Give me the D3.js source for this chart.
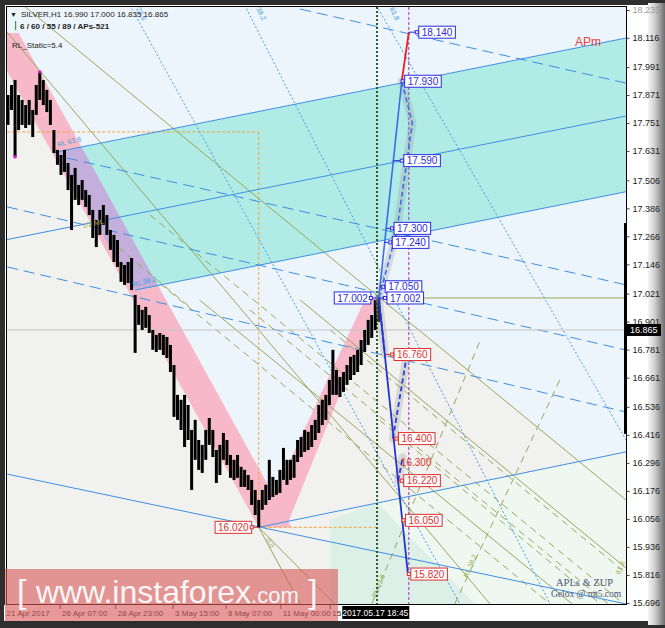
<!DOCTYPE html>
<html>
<head>
<meta charset="utf-8">
<script src="https://cdn.jsdelivr.net/npm/d3@7/dist/d3.min.js"></script>
<style>
  html, body { margin: 0; padding: 0; background: #2e2e2e; }
  svg { display: block; }
  text { font-family: "Liberation Sans", Arial, sans-serif; }
</style>
</head>
<body>
<svg id="chart" width="665" height="628"></svg>
<script>
// ---- data (time in H1 bars from chart start, price in USD) ----
var candleHighs = [17.871,17.914,17.935,17.871,17.850,17.828,17.850,17.807,17.914,17.970,
  17.935,17.893,17.850,17.721,17.636,17.614,17.636,17.580,17.529,17.559,
  17.486,17.507,17.464,17.443,17.379,17.336,17.379,17.400,17.357,17.293,
  17.272,17.250,17.156,17.143,17.156,17.173,17.015,16.972,16.951,16.964,
  16.929,16.865,16.844,16.852,16.844,16.835,16.801,16.715,16.587,16.566,
  16.587,16.544,16.437,16.480,16.394,16.373,16.437,16.488,16.437,16.351,
  16.373,16.424,16.394,16.330,16.309,16.330,16.279,16.266,16.244,16.223,
  16.180,16.137,16.180,16.202,16.309,16.236,16.223,16.266,16.360,16.309,
  16.309,16.330,16.394,16.407,16.437,16.429,16.458,16.480,16.544,16.566,
  16.587,16.651,16.780,16.694,16.664,16.685,16.715,16.750,16.758,16.780,
  16.822,16.865,16.908,16.929,16.994,17.002];
var candleLows = [17.743,17.807,17.606,17.721,17.743,17.730,17.743,17.691,17.786,17.850,
  17.828,17.798,17.743,17.623,17.572,17.529,17.542,17.464,17.293,17.422,
  17.400,17.422,17.392,17.357,17.259,17.220,17.272,17.315,17.272,17.208,
  17.156,17.135,17.071,17.058,17.066,17.036,16.767,16.887,16.865,16.874,
  16.852,16.780,16.771,16.780,16.758,16.745,16.685,16.493,16.480,16.437,
  16.364,16.394,16.180,16.309,16.266,16.253,16.309,16.373,16.321,16.210,
  16.244,16.309,16.287,16.232,16.223,16.232,16.193,16.193,16.180,16.116,
  16.073,16.020,16.095,16.116,16.137,16.150,16.159,16.167,16.223,16.202,
  16.223,16.232,16.300,16.321,16.343,16.351,16.364,16.394,16.424,16.458,
  16.480,16.544,16.587,16.587,16.578,16.600,16.630,16.651,16.672,16.685,
  16.715,16.771,16.801,16.831,16.865,16.899];
var hoursPerCandle = 4;

var priceTicks = [18.235,18.116,17.991,17.871,17.751,17.631,17.506,17.386,17.266,17.146,
  17.021,16.901,16.781,16.661,16.536,16.416,16.296,16.176,16.056,15.936,15.816,15.696];
var timeTickHours = [-4, 59, 122, 187, 247, 309, 365];
var timeTickLabels = ["21 Apr 2017","26 Apr 07:00","28 Apr 23:00","3 May 15:00","8 May 07:00","11 May 00:00","15"];

var lastPrice = 16.865;
var swingHigh = [420, 17.002];
var swingLow = [284, 16.020];

var upTargets = [18.140, 17.930, 17.590, 17.300, 17.240, 17.050, 17.002];
var upLineHours = [454, 446, 436, 428, 426, 421, 421];
var upMarkHours = [463, 447, 446, 435, 433, 425, 427];
var downTargets = [16.760, 16.400, 16.220, 16.050, 15.820];
var downLineHours = [428, 436, 442, 446, 453];
var downMarkHours = [435, 440, 446, 448, 454];

var upSolid = [[420,17.002],[446,17.930]];
var upRed = [[446,17.930],[454,18.140]];
var upDashed = [[420,17.002],[440,17.28],[458,17.75],[446,17.930]];
var downSolid = [[420,17.002],[453,15.820]];
var downDashed = [[[420,17.002],[427,16.76]], [[436,16.40],[451,16.74]], [[442,16.22],[447,16.32]]];

// background zones
var grayZone = [[-1,17.973],[284,16.02],[315,16.02],[420,17.002],[700,16.137],[700,15.69],[-1,15.69]];
var greenZone = [[418,16.125],[700,16.343],[700,15.69],[418,15.69]];
var tealZone = [[365,16.052],[418,16.125],[529,15.69],[365,15.69]];
var pinkDown = [[-25,18.137],[12,18.137],[321,16.02],[284,16.02]];
var pinkUp = [[284,16.02],[315,16.02],[420,17.002],[405,17.002]];
var channel = [[52,17.625],[700,18.115],[700,17.457],[144,17.036]];

// lines
var channelLines = [[[52,17.625],[700,18.115]], [[-1,17.252],[700,17.781]], [[144,17.036],[700,17.457]],
  [[-1,16.248],[700,15.692]], [[284,16.02],[700,16.343]]];
var blueDashed = [[[331,18.239],[700,17.922]], [[67,17.601],[700,17.058]], [[-1,17.392],[700,16.779]], [[-1,17.135],[700,16.514]]];
var blueDotted = [[[138,18.256],[512,15.692]], [[268,18.256],[614,15.692]], [[417,18.256],[700,16.394]]];
var oliveSolid = [[[17,18.256],[700,16.137]], [[-1,18.141],[546,15.692]], [[284,16.02],[331,15.692]],
  [[284,16.02],[370,15.692]], [[217,16.993],[639,15.692]], [[331,16.993],[700,15.846]], [[421,17.002],[700,17.002]]];
var oliveDashed = [[[161,17.357],[700,15.684]], [[274,16.951],[680,15.692]], [[365,16.865],[700,15.824]],
  [[421,16.479],[671,15.692]], [[115,17.25],[206,16.963]], [[412,15.692],[535,16.822]],
  [[506,15.692],[625,16.651]], [[172,17.064],[614,15.692]]];
var orangeLevels = [[[-1,17.713],[284,17.713]], [[284,17.713],[284,16.02]], [[284,16.02],[418,16.02]]];
var fractals = [[8,17.606],[36,17.970]];

var notes = [
  [56.6,17.648,"RL 63.8",-14,"#4a9ad8"], [85,17.302,"1/2 ML",-12,"#a3a84a"], [141.6,17.049,"RL 38.2",-14,"#4a9ad8"],
  [145,18.24,"23.6",63,"#4a9ad8"], [281,18.24,"38.2",63,"#4a9ad8"], [432,18.24,"61.8",63,"#4a9ad8"],
  [417,15.717,"RL 23.6",-68,"#9aa84a"], [521,15.803,"RL 38.2",-68,"#9aa84a"], [292,15.966,"0.0",60,"#9aa84a"],
  [693,15.816,"61.8",-68,"#9aa84a"]
];

// ---- scales ----
var x = d3.scaleLinear().domain([0, 700]).range([8, 626]);
var y = d3.scaleLinear().domain([15.696, 18.235]).range([603, 10]);
var line = d3.line().x(function(d) { return x(d[0]); }).y(function(d) { return y(d[1]); });
var poly = function(pts) { return line(pts) + "Z"; };

var svg = d3.select("#chart");
var defs = svg.append("defs");
defs.append("clipPath").attr("id", "plotClip").append("rect")
  .attr("x", 7).attr("y", 7).attr("width", 619).attr("height", 597);
defs.append("clipPath").attr("id", "chanClip").append("path").attr("d", poly(channel));
var bev = defs.append("linearGradient").attr("id", "bevel").attr("x1", 0).attr("x2", 1);
bev.append("stop").attr("offset", 0).attr("stop-color", "#f4f4f4");
bev.append("stop").attr("offset", 0.4).attr("stop-color", "#cfcfcf");
bev.append("stop").attr("offset", 1).attr("stop-color", "#6c6c6c");

// frame
svg.append("rect").attr("width", 665).attr("height", 628).attr("fill", "#2e2e2e");
svg.append("rect").attr("x", 5).attr("y", 5).attr("width", 643).attr("height", 616).attr("fill", "#fff");
svg.append("rect").attr("x", 648).attr("y", 3).attr("width", 17).attr("height", 622).attr("fill", "url(#bevel)");

var g = svg.append("g").attr("clip-path", "url(#plotClip)");

// zones
g.append("rect").attr("x", 7).attr("y", 7).attr("width", 619).attr("height", 597).attr("fill", "#edf5fc");
g.append("path").attr("d", poly(grayZone)).attr("fill", "#f1f1ef");
g.append("path").attr("d", poly(greenZone)).attr("fill", "#eef8f1");
g.append("path").attr("d", poly(tealZone)).attr("fill", "#dcf0e8");
g.append("path").attr("d", poly(pinkDown)).attr("fill", "#f7b8c9");
g.append("path").attr("d", poly(pinkUp)).attr("fill", "#f7b8c9");
g.append("path").attr("d", poly(channel)).attr("fill", "#b0ebe6");
g.append("g").attr("clip-path", "url(#chanClip)")
  .append("path").attr("d", poly(pinkDown)).attr("fill", "#c4aedb");

// guide lines
function drawSet(set, color, dash, width) {
  set.forEach(function(pts) {
    g.append("path").attr("d", line(pts)).attr("fill", "none").attr("stroke", color)
      .attr("stroke-width", width || 1).attr("stroke-dasharray", dash || null);
  });
}
drawSet(orangeLevels, "#f2a33a", "3,2");
drawSet(oliveSolid, "#98a65a");
drawSet(oliveDashed, "#98a65a", "7,5");
drawSet(blueDotted, "#4a9ae6", "2,2");
drawSet(blueDashed, "#3f8fe2", "11,6");
drawSet(channelLines, "#3f8fe2");

// last price line
g.append("line").attr("x1", 7).attr("x2", 626).attr("y1", y(lastPrice)).attr("y2", y(lastPrice))
  .attr("stroke", "#c4c4c4");

// vertical markers
g.append("line").attr("x1", x(418)).attr("x2", x(418)).attr("y1", 7).attr("y2", 604)
  .attr("stroke", "#2f5a2a").attr("stroke-width", 2).attr("stroke-dasharray", "2,2");
g.append("line").attr("x1", x(454)).attr("x2", x(454)).attr("y1", 7).attr("y2", 604)
  .attr("stroke", "#a030b0").attr("stroke-dasharray", "3,2");

// candles
g.selectAll("rect.bar").data(candleHighs).enter().append("rect").attr("class", "bar")
  .attr("x", function(d, i) { return x(i * hoursPerCandle) - 1.5; })
  .attr("width", 3)
  .attr("y", function(d) { return y(d); })
  .attr("height", function(d, i) { return Math.max(1, y(candleLows[i]) - y(d)); })
  .attr("fill", "#000");
g.selectAll("rect.frac").data(fractals).enter().append("rect").attr("class", "frac")
  .attr("x", function(d) { return x(d[0]) - 1.5; }).attr("y", function(d) { return y(d[1]) - 1.5; })
  .attr("width", 3).attr("height", 3).attr("fill", "#d020d0");

// projections
[upDashed].concat(downDashed).forEach(function(pts) {
  g.append("path").attr("d", line(pts)).attr("fill", "none").attr("stroke", "#9a9a9a")
    .attr("stroke-opacity", 0.3).attr("stroke-width", 8).attr("stroke-linecap", "round");
});
g.append("path").attr("d", line(upDashed)).attr("fill", "none").attr("stroke", "#3a6ee8")
  .attr("stroke-width", 1.6).attr("stroke-dasharray", "5,3");
downDashed.forEach(function(pts) {
  g.append("path").attr("d", line(pts)).attr("fill", "none").attr("stroke", "#2a3fd8")
    .attr("stroke-width", 1.8).attr("stroke-dasharray", "5,3");
});
g.append("path").attr("d", line(upSolid)).attr("fill", "none").attr("stroke", "#3a6ee8").attr("stroke-width", 1.6);
g.append("path").attr("d", line(upRed)).attr("fill", "none").attr("stroke", "#e82020").attr("stroke-width", 1.8);
g.append("path").attr("d", line(downSolid)).attr("fill", "none").attr("stroke", "#2233d0").attr("stroke-width", 1.8);

// target labels
function tag(price, lineH, markH, color, toLeft) {
  var py = y(price), mx = x(markH);
  g.append("line").attr("x1", x(lineH)).attr("x2", mx).attr("y1", py).attr("y2", py).attr("stroke", color);
  var t = g.append("text").attr("y", py + 3.6).attr("font-size", 10).attr("fill", color).text(price.toFixed(3));
  var w = t.node().getComputedTextLength();
  var bx = toLeft ? mx - w - 6 : mx + 2;
  t.attr("x", bx + 3);
  g.insert("rect", function() { return t.node(); }).attr("x", bx).attr("y", py - 6).attr("width", w + 6)
    .attr("height", 12).attr("fill", "#fff").attr("stroke", color);
  g.append("rect").attr("x", mx - 1.5).attr("y", py - 1.5).attr("width", 3).attr("height", 3)
    .attr("fill", "#fff").attr("stroke", color);
}
upTargets.forEach(function(p, i) { tag(p, upLineHours[i], upMarkHours[i], "#2a2ae0", false); });
downTargets.forEach(function(p, i) { tag(p, downLineHours[i], downMarkHours[i], "#e03030", false); });
tag(swingHigh[1], swingHigh[0], 411, "#2a2ae0", true);
tag(swingLow[1], swingLow[0], 276, "#e03030", true);
g.append("text").attr("x", x(445)).attr("y", y(16.30) + 4).attr("font-size", 10).attr("fill", "#e03030").text("16.300");

// annotations
notes.forEach(function(n) {
  g.append("text").attr("transform", "translate(" + x(n[0]) + "," + y(n[1]) + ") rotate(" + n[3] + ")")
    .attr("font-size", 7).attr("fill", n[4]).text(n[2]);
});
g.append("text").attr("x", 575).attr("y", 46).attr("font-size", 12).attr("fill", "#e84040").text("APm");
g.append("text").attr("x", 556).attr("y", 586).attr("font-size", 10.5).attr("fill", "#4b5670")
  .style("font-family", "'Liberation Serif', serif").text("APLs & ZUP");
g.append("text").attr("x", 551).attr("y", 597).attr("font-size", 9.5).attr("fill", "#4b5670")
  .style("font-family", "'Liberation Serif', serif").text("Gelox @ mt5.com");

// header
g.append("text").attr("x", 10).attr("y", 17).attr("font-size", 7).attr("fill", "#222").text("\u25BC");
g.append("text").attr("x", 21).attr("y", 17).attr("font-size", 8).attr("fill", "#222")
  .text("SILVER,H1  16.990 17.000 16.835 16.865");
g.append("rect").attr("x", 15).attr("y", 21).attr("width", 1.2).attr("height", 9).attr("fill", "#3aa03a");
g.append("text").attr("x", 20).attr("y", 29).attr("font-size", 8).attr("font-weight", "bold").attr("fill", "#222")
  .text("6 / 60 / 55 / 89 / APs-521");
g.append("text").attr("x", 12).attr("y", 48).attr("font-size", 8).attr("fill", "#222").text("RL_Static=5.4");

// plot border and axes
svg.append("rect").attr("x", 6.5).attr("y", 6.5).attr("width", 620).attr("height", 598)
  .attr("fill", "none").attr("stroke", "#000");
svg.append("line").attr("x1", x(700) - 0.5).attr("x2", x(700) - 0.5).attr("y1", y(17.323)).attr("y2", y(16.42))
  .attr("stroke", "#000").attr("stroke-width", 3);

var yAxis = d3.axisRight(y).tickValues(priceTicks).tickSize(3).tickFormat(d3.format(".3f"));
var ya = svg.append("g").attr("transform", "translate(626.5,0)").call(yAxis);
ya.select(".domain").remove();
ya.selectAll("text").attr("font-size", 9).attr("fill", "#222").attr("font-family", "'Liberation Sans', Arial");
ya.selectAll("line").attr("stroke", "#444");
ya.selectAll(".tick").filter(function(d) { return d === 18.235; }).select("text").attr("fill", "#9a9a9a");

svg.selectAll("text.tl").data(timeTickLabels).enter().append("text").attr("class", "tl")
  .attr("x", function(d, i) { return x(timeTickHours[i]) + 2; }).attr("y", 616)
  .attr("font-size", 8).attr("fill", "#222").text(function(d) { return d; });
svg.selectAll("line.tt").data(timeTickHours).enter().append("line").attr("class", "tt")
  .attr("x1", function(d) { return x(d); }).attr("x2", function(d) { return x(d); })
  .attr("y1", 605).attr("y2", 609).attr("stroke", "#444");
svg.append("rect").attr("x", 4).attr("y", 605).attr("width", 2).attr("height", 16).attr("fill", "#fff");

// crosshair time and last price boxes
var cx = x(416);
svg.append("rect").attr("x", cx - 33).attr("y", 606).attr("width", 67).attr("height", 13).attr("fill", "#000");
svg.append("text").attr("x", cx).attr("y", 616).attr("text-anchor", "middle").attr("font-size", 8.5)
  .attr("fill", "#fff").text("2017.05.17 18:45");
svg.append("rect").attr("x", 627).attr("y", y(lastPrice) - 6).attr("width", 34).attr("height", 12).attr("fill", "#000");
svg.append("text").attr("x", 630).attr("y", y(lastPrice) + 3.5).attr("font-size", 9).attr("fill", "#fff").text("16.865");

// watermark
var wm = svg.append("g");
wm.append("rect").attr("x", 5).attr("y", 569).attr("width", 333).attr("height", 52)
  .attr("fill", "#d85a5a").attr("opacity", 0.62);
var wt = wm.append("text").attr("x", 17).attr("y", 603).attr("fill", "#fff").attr("opacity", 0.92);
wt.append("tspan").attr("font-size", 34).attr("font-weight", 300).text("[ ");
wt.append("tspan").attr("font-size", 32).text("www.instaforex");
wt.append("tspan").attr("font-size", 22).text(".com");
wt.append("tspan").attr("font-size", 34).text(" ]");
</script>
</body>
</html>
